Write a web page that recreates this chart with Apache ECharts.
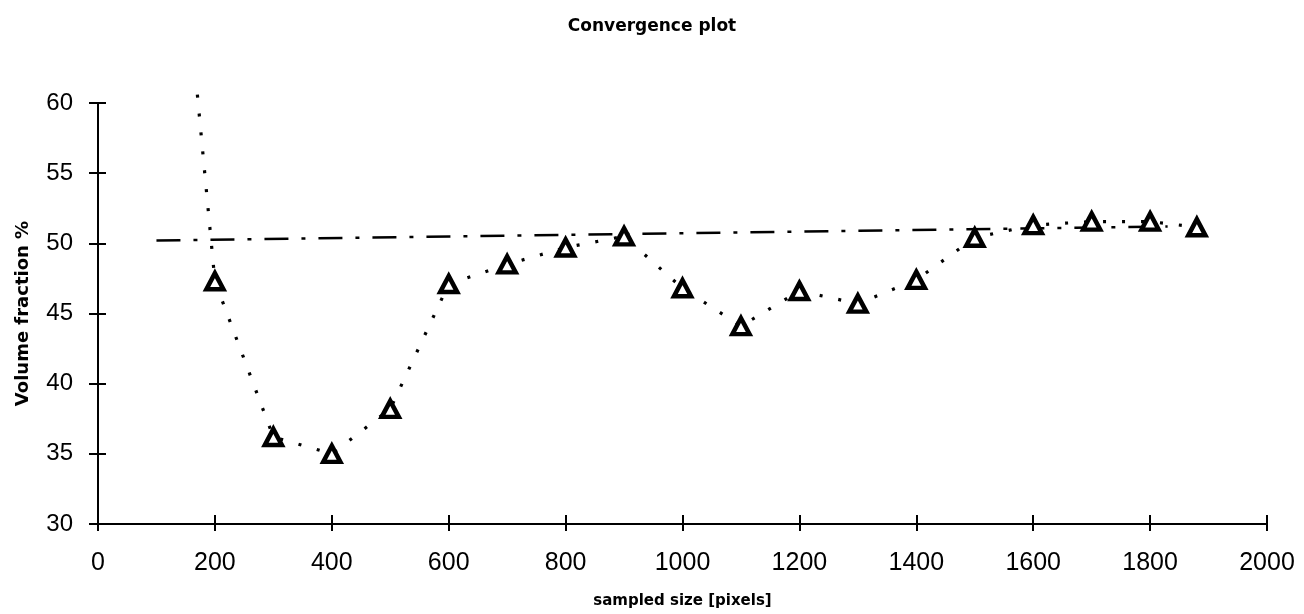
<!DOCTYPE html>
<html>
<head>
<meta charset="utf-8">
<script src="https://cdn.jsdelivr.net/npm/echarts@6/dist/echarts.min.js"></script>
<style>
html,body{margin:0;padding:0;background:#fff;}
#chart{width:1304px;height:614px;}
</style>
</head>
<body>
<div id="chart"></div>
<script>
// sampled sizes (pixels) and measured volume fraction (%)
var sampledSize = [200, 300, 400, 500, 600, 700, 800, 900, 1000, 1100, 1200, 1300, 1400, 1500, 1600, 1700, 1800, 1880];
var volumeFraction = [47.3, 36.2, 35.0, 38.2, 47.1, 48.5, 49.7, 50.5, 46.8, 44.1, 46.6, 45.7, 47.4, 50.4, 51.3, 51.55, 51.55, 51.15];
// visible start of the dotted curve above the plot
var leadInSize = [170];
var leadInValue = [60.6];
// dash-dot reference line end points
var refSize = [100, 1830];
var refValue = [50.2, 51.2];
// axis ticks
var xTicks = [0, 200, 400, 600, 800, 1000, 1200, 1400, 1600, 1800, 2000];
var yTicks = [30, 35, 40, 45, 50, 55, 60];

var pts = sampledSize.map(function (x, i) { return [x, volumeFraction[i]]; });
var curve = leadInSize.map(function (x, i) { return [x, leadInValue[i]]; }).concat(pts);
var ref = refSize.map(function (x, i) { return [x, refValue[i]]; });

var nameFont = { color: '#000', fontFamily: 'DejaVu Sans', fontWeight: 'bold' };

function xAxisDef(main) {
  return {
    type: 'value', position: 'bottom',
    min: xTicks[0], max: xTicks[xTicks.length - 1], interval: 200,
    splitLine: { show: false },
    axisLine: { show: main, onZero: false, lineStyle: { color: '#000', width: 2 } },
    axisTick: { show: true, inside: !main, length: main ? 7 : 9, lineStyle: { color: '#000', width: 2 } },
    axisLabel: main ? {
      margin: 27, color: '#000', fontFamily: 'Liberation Sans', fontSize: 25,
      formatter: function (v) { return String(v); }
    } : { show: false },
    name: main ? 'sampled size [pixels]' : '',
    nameLocation: 'middle', nameGap: 70,
    nameTextStyle: Object.assign({ fontSize: 15 }, nameFont)
  };
}
function yAxisDef(main) {
  return {
    type: 'value', position: 'left',
    min: yTicks[0], max: yTicks[yTicks.length - 1], interval: 5,
    splitLine: { show: false },
    axisLine: { show: main, onZero: false, lineStyle: { color: '#000', width: 2 } },
    axisTick: { show: true, inside: !main, length: main ? 9 : 8, lineStyle: { color: '#000', width: 2 } },
    axisLabel: main ? {
      margin: 25, color: '#000', fontFamily: 'Liberation Sans', fontSize: 24,
      formatter: function (v) { return String(v); }
    } : { show: false },
    name: main ? 'Volume fraction %' : '',
    nameLocation: 'middle', nameGap: 66, nameRotate: 90,
    nameTextStyle: Object.assign({ fontSize: 18 }, nameFont)
  };
}

var chart = echarts.init(document.getElementById('chart'), null, { renderer: 'canvas' });
chart.setOption({
  backgroundColor: '#fff',
  animation: false,
  title: {
    text: 'Convergence plot', left: 'center', top: 13,
    textStyle: { color: '#000', fontFamily: 'DejaVu Sans', fontWeight: 'bold', fontSize: 17 }
  },
  grid: { left: 98, right: 37, top: 103, bottom: 84 },
  xAxis: [xAxisDef(true), xAxisDef(false)],
  yAxis: [yAxisDef(true), yAxisDef(false)],
  series: [
    {
      type: 'line', data: ref, showSymbol: false, symbol: 'none', z: 2,
      lineStyle: { color: '#000', width: 2.5, type: [24, 13, 4, 13] }
    },
    {
      type: 'line', data: curve, showSymbol: false, symbol: 'none', clip: false, z: 3,
      lineStyle: { color: '#000', width: 3.2, type: [3, 16] }
    },
    {
      type: 'scatter', data: pts, symbol: 'triangle', symbolSize: [17, 16], z: 4,
      itemStyle: { color: '#fff', borderColor: '#000', borderWidth: 4.5, opacity: 1 }
    }
  ]
});
</script>
</body>
</html>
